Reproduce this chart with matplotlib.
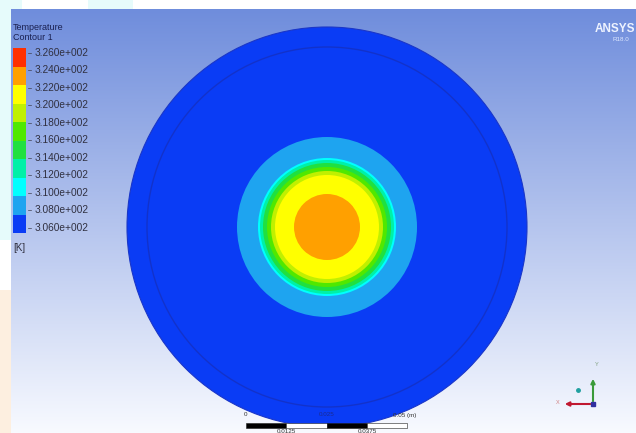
import numpy as np
import matplotlib
matplotlib.use("Agg")
import matplotlib.pyplot as plt
from matplotlib.patches import Circle, Rectangle
from matplotlib.colors import to_rgb

# ---- data ----
tick_labels = ["3.260e+002", "3.240e+002", "3.220e+002", "3.200e+002", "3.180e+002",
               "3.160e+002", "3.140e+002", "3.120e+002", "3.100e+002", "3.080e+002",
               "3.060e+002"]
# band colours bottom -> top (3.06-3.08 ... 3.24-3.26)
band_colors = ["#0a3cf5", "#1ea4f0", "#00ffff", "#00f0a8", "#20e040",
               "#50e800", "#c0f000", "#ffff00", "#ffa000", "#ff3000"]
# outer radius (pixels) of each band present in the disk, bottom band first
band_radii = [200, 90, 69, 67, 64, 60, 56, 52, 33]
scale_top_labels = ["0", "0.025", "0.05 (m)"]
scale_bot_labels = ["0.0125", "0.0375"]

W, H = 636, 433
fig = plt.figure(figsize=(W / 100, H / 100), dpi=100)
ax = fig.add_axes([0, 0, 1, 1])
ax.set_xlim(0, W)
ax.set_ylim(H, 0)
ax.axis("off")
plt.rcParams['font.family'] = ['Liberation Sans', 'DejaVu Sans']

# faint watermark shapes in white margin
ax.add_patch(Rectangle((0, 0), 11, 240, color="#e6fbfb", lw=0, zorder=0))
ax.add_patch(Rectangle((0, 290), 11, 143, color="#fdefe0", lw=0, zorder=0))
ax.add_patch(Rectangle((0, 0), 22, 9, color="#e6fbfb", lw=0, zorder=0))
ax.add_patch(Rectangle((88, 0), 45, 9, color="#e6fbfb", lw=0, zorder=0))

# background gradient panel
top = np.array(to_rgb("#6f8ddc"))
bot = np.array(to_rgb("#f8faff"))
t = np.linspace(0, 1, 256)[:, None]
grad = (top[None, :] * (1 - t) + bot[None, :] * t)[:, None, :]
ax.imshow(grad, extent=[11, W, H, 9], aspect="auto", zorder=1, interpolation="bilinear")

# contour disk
cx, cy = 327, 227
for i, r in enumerate(band_radii):
    ax.add_patch(Circle((cx, cy), r, facecolor=band_colors[i], edgecolor="none", zorder=2 + i * 0.01))
ax.add_patch(Circle((cx, cy), band_radii[0], facecolor="none", edgecolor="#1a36c8", lw=0.8, zorder=3))
ax.add_patch(Circle((cx, cy), 180, facecolor="none", edgecolor="#1530c0", lw=1.0, alpha=0.8, zorder=3))

# legend
ax.text(13, 28, "Temperature", fontsize=6.5, color="#1a2050", va="center", ha="left", zorder=5)
ax.text(13, 37, "Contour 1", fontsize=6.5, color="#1a2050", va="center", ha="left", zorder=5)
bar_x, bar_w, bar_top, bar_bot = 13, 13, 48, 233
n = len(band_colors)
bh = (bar_bot - bar_top) / n
for i, c in enumerate(band_colors):
    y0 = bar_bot - (i + 1) * bh
    ax.add_patch(Rectangle((bar_x, y0), bar_w, bh, facecolor=c, edgecolor="none", zorder=5))
lab_top, lab_bot = 52.5, 228
for k, lab in enumerate(tick_labels):
    y = lab_top + k * (lab_bot - lab_top) / (len(tick_labels) - 1)
    ax.text(35, y, lab, fontsize=7.3, color="#303040", va="center", ha="left", zorder=5)
    ax.plot([28, 31], [y, y], color="#404050", lw=0.5, zorder=5)
ax.text(13, 248, "[K]", fontsize=7, color="#303040", va="center", ha="left", zorder=5)

# ANSYS logo
ax.text(615, 29, "ANSYS", fontsize=8.5, fontweight="bold", color="#eef3ff", va="center", ha="center", zorder=5)
ax.text(621, 39.5, "R18.0", fontsize=4.5, color="#dfe8ff", va="center", ha="center", zorder=5)

# scale bar
edges = [246, 286, 327, 367, 407]
for j in range(4):
    ax.add_patch(Rectangle((edges[j], 423), edges[j + 1] - edges[j], 5,
                           facecolor="black" if j % 2 == 0 else "white",
                           edgecolor="#202020", lw=0.4, zorder=6))
ax.text(246, 415, scale_top_labels[0], fontsize=4.5, color="#303030", ha="center", va="center", zorder=6)
ax.text(327, 415, scale_top_labels[1], fontsize=4.5, color="#1a2a90", ha="center", va="center", zorder=6)
ax.text(405, 415, scale_top_labels[2], fontsize=4.5, color="#303030", ha="center", va="center", zorder=6)
ax.text(286, 431.5, scale_bot_labels[0], fontsize=4.5, color="#303030", ha="center", va="center", zorder=6)
ax.text(367, 431.5, scale_bot_labels[1], fontsize=4.5, color="#303030", ha="center", va="center", zorder=6)

# triad
ox, oy = 593, 404
ax.annotate("", xy=(ox, 376), xytext=(ox, oy),
            arrowprops=dict(arrowstyle="-|>", color="#3a9a3a", lw=1.5, mutation_scale=6), zorder=7)
ax.annotate("", xy=(562, oy), xytext=(ox, oy),
            arrowprops=dict(arrowstyle="-|>", color="#c01830", lw=1.5, mutation_scale=6), zorder=7)
ax.add_patch(Rectangle((ox - 2, oy - 2), 4, 4, color="#3030a0", zorder=8))
ax.plot([578], [390], marker="o", ms=2.5, color="#20a0a0", zorder=7)
ax.text(597, 365, "Y", fontsize=4, color="#80a080", ha="center", va="center", zorder=7)
ax.text(558, 402, "X", fontsize=4, color="#d08080", ha="center", va="center", zorder=7)

fig.savefig("out.png", dpi=100)
